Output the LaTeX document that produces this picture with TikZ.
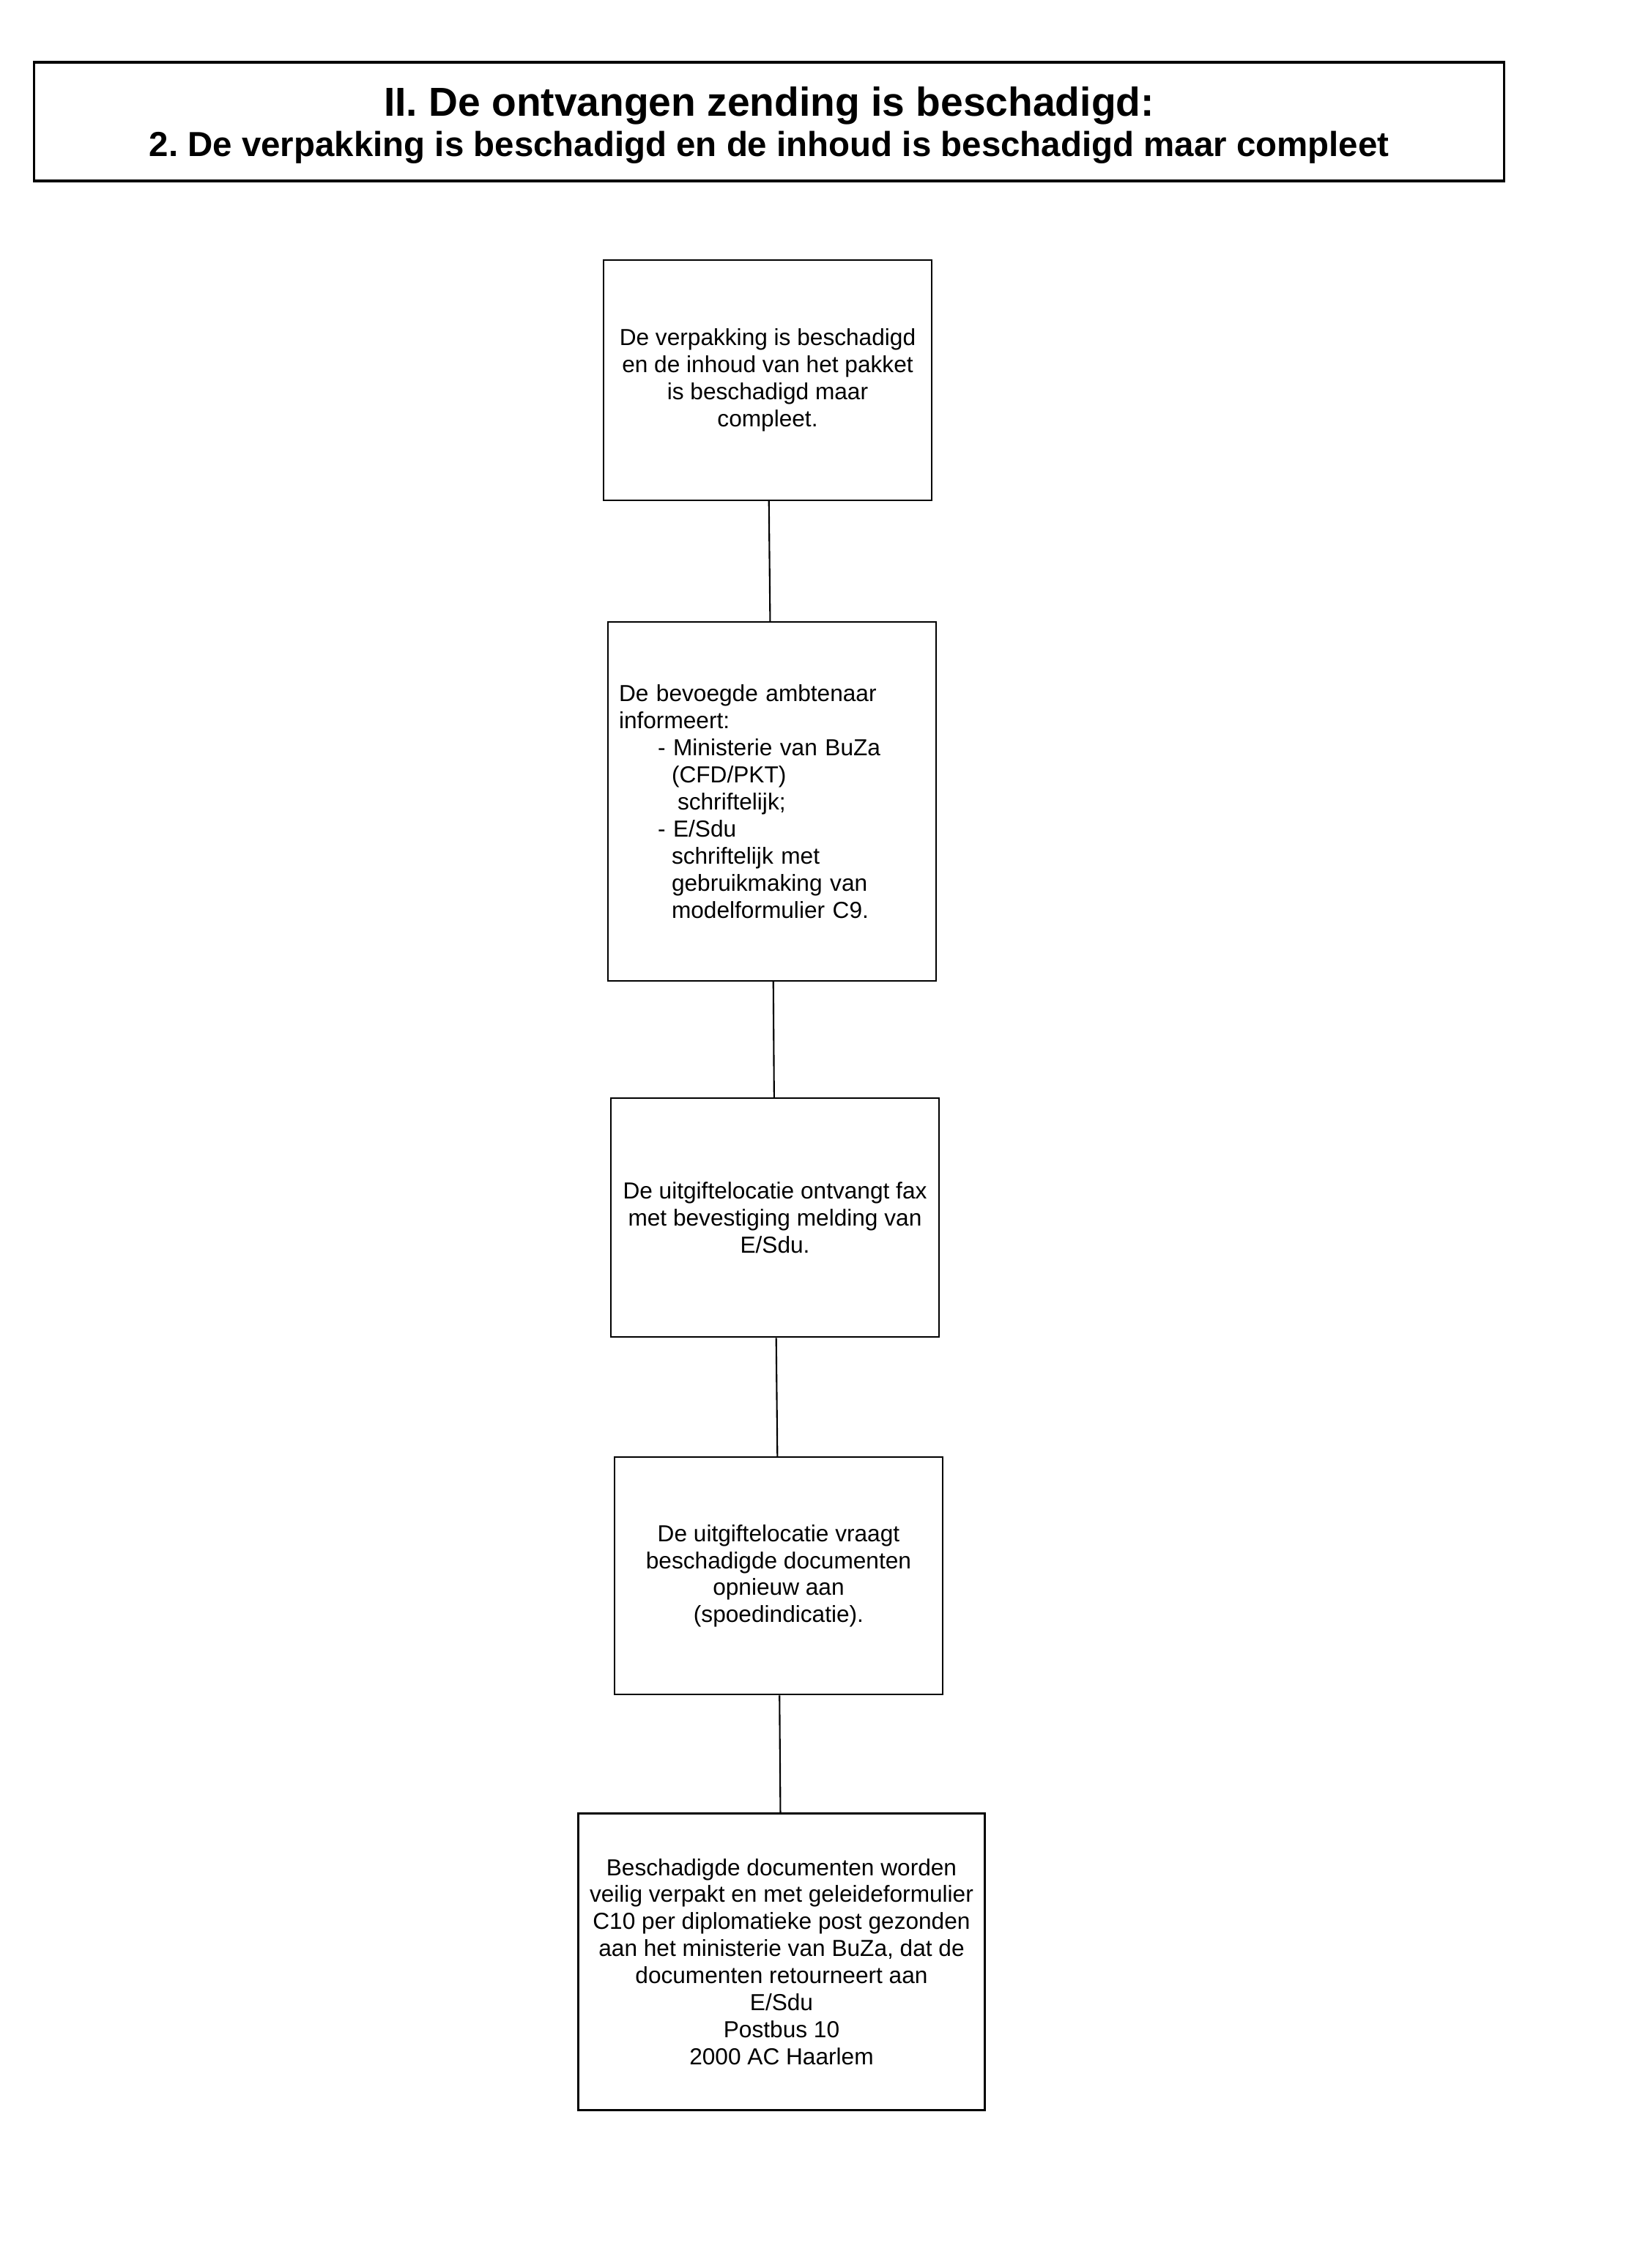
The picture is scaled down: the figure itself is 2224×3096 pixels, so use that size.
\documentclass[tikz,border=0pt]{standalone}
\usepackage{fontspec}
\setmainfont{Liberation Sans}
\usetikzlibrary{positioning}

\begin{document}
\begin{tikzpicture}[
        x=0.1mm, y=-0.1mm,
        block/.style={rectangle, draw, line width=0.6pt, minimum width=44.8mm, minimum height=32.8mm, align=center, inner sep=1.5mm, font=\fontsize{9}{10.5}\selectfont},
        listblock/.style={block, text width=41.8mm, align=left},
        titlebox/.style={rectangle, draw, line width=0.9pt, minimum width=200.7mm, minimum height=16.2mm, align=center, inner sep=0pt, text depth=0pt, font=\fontsize{15.7}{15.9}\selectfont\bfseries},
        link/.style={line width=0.6pt},
    ]
        \useasboundingbox (0,0) rectangle (2224,3096);

        % Heading
        \node[titlebox] (head) at (1050,166) {II. De ontvangen zending is beschadigd:\\
            {\fontsize{13.5}{15.9}\selectfont 2.\ De verpakking is beschadigd en de inhoud is beschadigd maar compleet}};

        % Flow: one column, top to bottom
        \node[block] (damaged) at (1048,519) {De verpakking is beschadigd\\en de inhoud van het pakket\\is beschadigd maar\\compleet.};
        \node[listblock, minimum height=49mm, below=16.4mm of damaged, xshift=0.6mm] (inform) {De bevoegde ambtenaar\\
            informeert:\\
            \hspace*{5.3mm}- Ministerie van BuZa\\
            \hspace*{7.2mm}(CFD/PKT)\\
            \hspace*{8.0mm}schriftelijk;\\
            \hspace*{5.3mm}- E/Sdu\\
            \hspace*{7.2mm}schriftelijk met\\
            \hspace*{7.2mm}gebruikmaking van\\
            \hspace*{7.2mm}modelformulier C9.};
        \node[block, minimum height=32.6mm, below=15.8mm of inform, xshift=0.4mm] (fax) {De uitgiftelocatie ontvangt fax\\met bevestiging melding van\\E/Sdu.};
        \node[block, minimum height=32.4mm, below=16.2mm of fax, xshift=0.5mm] (request) {De uitgiftelocatie vraagt\\beschadigde documenten\\opnieuw aan\\(spoedindicatie).};
        \node[block, minimum width=55.5mm, minimum height=40.5mm, below=16.0mm of request, xshift=0.4mm] (ship) {Beschadigde documenten worden\\veilig verpakt en met geleideformulier\\C10 per diplomatieke post gezonden\\aan het ministerie van BuZa, dat de\\documenten retourneert aan\\E/Sdu\\Postbus 10\\2000 AC Haarlem};

        % Connectors
        \draw[link] (damaged) -- (inform);
        \draw[link] (inform) -- (fax);
        \draw[link] (fax) -- (request);
        \draw[link] (request) -- (ship);

    \end{tikzpicture}
\end{document}
